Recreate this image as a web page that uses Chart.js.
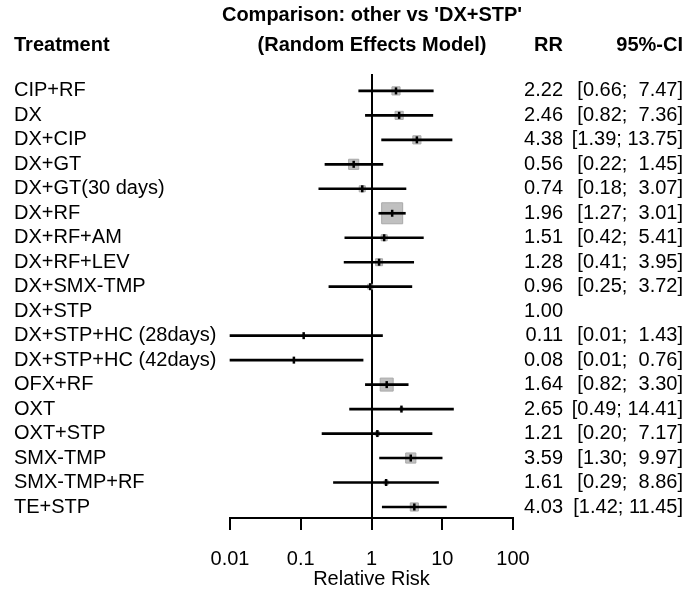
<!DOCTYPE html>
<html>
<head>
<meta charset="utf-8">
<script src="https://cdn.jsdelivr.net/npm/chart.js@4/dist/chart.umd.min.js"></script>
<style>
  html, body { margin: 0; padding: 0; background: #fff; }
  #wrap { width: 686px; height: 592px; }
</style>
</head>
<body>
<div id="wrap"><canvas id="forest"></canvas></div>
<script>
// Forest plot data (other vs 'DX+STP', random effects)
const treatments = ['CIP+RF', 'DX', 'DX+CIP', 'DX+GT', 'DX+GT(30 days)', 'DX+RF', 'DX+RF+AM',
    'DX+RF+LEV', 'DX+SMX-TMP', 'DX+STP', 'DX+STP+HC (28days)', 'DX+STP+HC (42days)', 'OFX+RF',
    'OXT', 'OXT+STP', 'SMX-TMP', 'SMX-TMP+RF', 'TE+STP'];
const rr    = [2.22, 2.46, 4.38, 0.56, 0.74, 1.96, 1.51, 1.28, 0.96, 1.00, 0.11, 0.08, 1.64, 2.65, 1.21, 3.59, 1.61, 4.03];
const lower = [0.66, 0.82, 1.39, 0.22, 0.18, 1.27, 0.42, 0.41, 0.25, null, 0.01, 0.01, 0.82, 0.49, 0.20, 1.30, 0.29, 1.42];
const upper = [7.47, 7.36, 13.75, 1.45, 3.07, 3.01, 5.41, 3.95, 3.72, null, 1.43, 0.76, 3.30, 14.41, 7.17, 9.97, 8.86, 11.45];
// relative weight of each comparison (drives box size), estimated from the boxes
const weights = [4.5, 4.5, 4.5, 7, 2.5, 30, 2.5, 3.3, 1.7, 0, 0.3, 0.3, 11.5, 0.7, 1.2, 7, 1.2, 4.5];
const tickValues = [0.01, 0.1, 1, 10, 100];
const tickLabels = ['0.01', '0.1', '1', '10', '100'];

const FONT = '"Liberation Sans", Arial, sans-serif';

function fmtCI(lo, hi) {
    if (lo === null) return '';
    // extra space keeps the columns lined up like R's output
    return '[' + lo.toFixed(2) + '; ' + (hi < 10 ? ' ' : '') + hi.toFixed(2) + ']';
}

const ciData = [], boxData = [], boxSize = [], estData = [];
treatments.forEach((t, i) => {
    if (lower[i] === null) return;
    ciData.push({ x: [lower[i], upper[i]], y: i + 1 });
    boxData.push({ x: rr[i], y: i + 1 });
    // box area proportional to weight
    boxSize.push(21 * Math.sqrt(weights[i] / 30) / Math.SQRT2);
    estData.push({ x: rr[i], y: i + 1 });
});

// text columns beside the plot
const textPlugin = {
    id: 'forestText',
    afterDraw(chart) {
        const ctx = chart.ctx;
        const y = chart.scales.y;
        ctx.save();
        ctx.fillStyle = '#000';
        ctx.textBaseline = 'middle';

        ctx.font = 'bold 20px ' + FONT;
        ctx.textAlign = 'center';
        ctx.fillText("Comparison: other vs 'DX+STP'", 372, 15);
        ctx.fillText('(Random Effects Model)', 372, 45);
        ctx.textAlign = 'left';
        ctx.fillText('Treatment', 14, 45);
        ctx.textAlign = 'right';
        ctx.fillText('RR', 563, 45);
        ctx.fillText('95%-CI', 683, 45);

        ctx.font = '20px ' + FONT;
        treatments.forEach((t, i) => {
            const py = y.getPixelForValue(i + 1);
            ctx.textAlign = 'left';
            ctx.fillText(t, 14, py);
            ctx.textAlign = 'right';
            ctx.fillText(rr[i].toFixed(2), 563, py);
            ctx.fillText(fmtCI(lower[i], upper[i]), 683, py);
        });
        ctx.restore();
    }
};

new Chart(document.getElementById('forest'), {
    type: 'bar',
    data: {
        datasets: [
            {
                type: 'scatter',
                data: boxData,
                pointStyle: 'rect',
                pointRadius: boxSize,
                backgroundColor: '#c0c0c0',
                borderColor: '#a9a9a9',
                borderWidth: 1,
                order: 3
            },
            {
                type: 'bar',
                indexAxis: 'y',
                data: ciData,
                backgroundColor: '#000',
                barThickness: 2,
                clip: false,
                order: 2
            },
            {
                type: 'scatter',
                data: estData,
                pointStyle: 'line',
                rotation: 90,
                pointRadius: 3.5,
                borderColor: '#000',
                borderWidth: 2.5,
                order: 1
            }
        ]
    },
    options: {
        responsive: true,
        maintainAspectRatio: false,
        animation: false,
        indexAxis: 'y',
        layout: { padding: { left: 230, right: 173, top: 74, bottom: 0 } },
        plugins: {
            legend: { display: false },
            tooltip: { enabled: false }
        },
        scales: {
            x: {
                type: 'logarithmic',
                position: 'bottom',
                min: 0.01,
                max: 100,
                afterBuildTicks: scale => { scale.ticks = tickValues.map(v => ({ value: v })); },
                afterFit: scale => { scale.height = 74; },
                ticks: {
                    autoSkip: false,
                    maxRotation: 0,
                    padding: 17,
                    color: '#000',
                    font: { family: FONT, size: 20 },
                    callback: (value) => tickLabels[tickValues.indexOf(value)]
                },
                grid: {
                    drawOnChartArea: true,
                    color: c => (c.tick && c.tick.value === 1 ? '#000' : 'rgba(0,0,0,0)'),
                    lineWidth: 2,
                    tickColor: '#000',
                    tickLength: 12,
                    tickWidth: 2
                },
                border: { display: true, color: '#000', width: 2 },
                title: {
                    display: true,
                    text: 'Relative Risk',
                    color: '#000',
                    font: { family: FONT, size: 20 },
                    padding: { top: 0, bottom: 1 }
                }
            },
            y: {
                type: 'linear',
                display: false,
                reverse: true,
                min: 0.31,
                max: 18.45,
                offset: false
            }
        }
    },
    plugins: [textPlugin]
});
</script>
</body>
</html>
